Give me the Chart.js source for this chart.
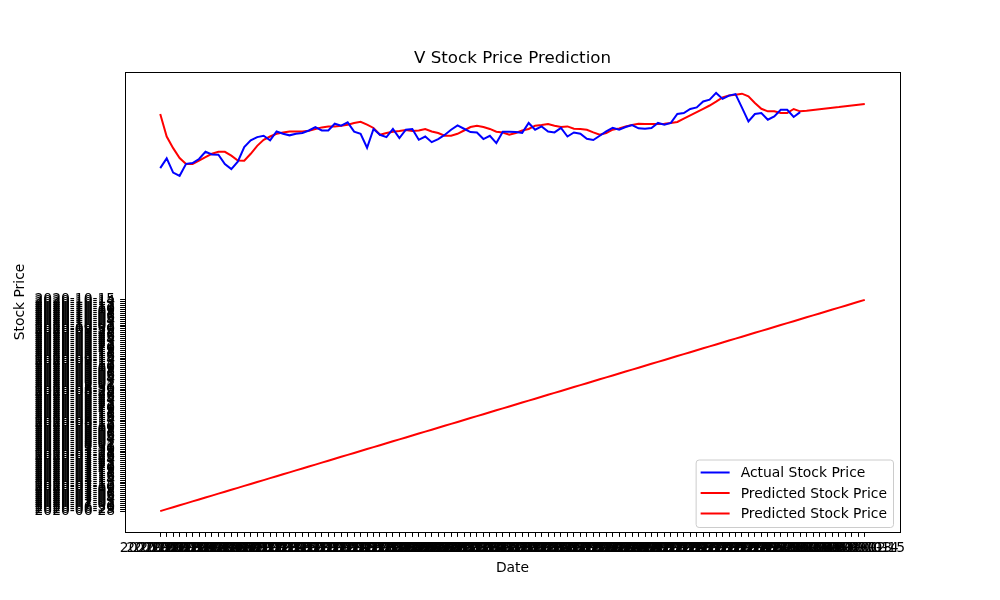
<!DOCTYPE html>
<html>
<head>
<meta charset="utf-8">
<script src="https://cdn.jsdelivr.net/npm/chart.js@4"></script>
<style>
  html, body { margin: 0; padding: 0; background: #fff; }
  #wrap { width: 1000px; height: 600px; }
</style>
</head>
<body>
<div id="wrap"><canvas id="mainChart" width="1000" height="600"></canvas></div>
<script>
const chartTitle = 'V Stock Price Prediction';
const xTitle = 'Date';
const yTitle = 'Stock Price';

// category labels (dates), used on both axes
const dates = [
  '2020-06-28', '2020-06-29', '2020-06-30',
  '2020-07-01', '2020-07-02', '2020-07-03', '2020-07-04', '2020-07-05', '2020-07-06', '2020-07-07', '2020-07-08',
  '2020-07-09', '2020-07-10', '2020-07-11', '2020-07-12', '2020-07-13', '2020-07-14', '2020-07-15', '2020-07-16',
  '2020-07-17', '2020-07-18', '2020-07-19', '2020-07-20', '2020-07-21', '2020-07-22', '2020-07-23', '2020-07-24',
  '2020-07-25', '2020-07-26', '2020-07-27', '2020-07-28', '2020-07-29', '2020-07-30', '2020-07-31',
  '2020-08-01', '2020-08-02', '2020-08-03', '2020-08-04', '2020-08-05', '2020-08-06', '2020-08-07', '2020-08-08',
  '2020-08-09', '2020-08-10', '2020-08-11', '2020-08-12', '2020-08-13', '2020-08-14', '2020-08-15', '2020-08-16',
  '2020-08-17', '2020-08-18', '2020-08-19', '2020-08-20', '2020-08-21', '2020-08-22', '2020-08-23', '2020-08-24',
  '2020-08-25', '2020-08-26', '2020-08-27', '2020-08-28', '2020-08-29', '2020-08-30', '2020-08-31',
  '2020-09-01', '2020-09-02', '2020-09-03', '2020-09-04', '2020-09-05', '2020-09-06', '2020-09-07', '2020-09-08',
  '2020-09-09', '2020-09-10', '2020-09-11', '2020-09-12', '2020-09-13', '2020-09-14', '2020-09-15', '2020-09-16',
  '2020-09-17', '2020-09-18', '2020-09-19', '2020-09-20', '2020-09-21', '2020-09-22', '2020-09-23', '2020-09-24',
  '2020-09-25', '2020-09-26', '2020-09-27', '2020-09-28', '2020-09-29', '2020-09-30',
  '2020-10-01', '2020-10-02', '2020-10-03', '2020-10-04', '2020-10-05', '2020-10-06', '2020-10-07', '2020-10-08',
  '2020-10-09', '2020-10-10', '2020-10-11', '2020-10-12', '2020-10-13', '2020-10-14', '2020-10-15'
];

const actualPrice = [
  177.0, 182.0, 174.7, 173.0, 179.2, 179.6, 181.7, 185.4, 184.0, 183.9,
  179.1, 176.5, 180.3, 187.9, 191.3, 193.0, 193.7, 191.3, 195.9, 194.7,
  193.9, 194.7, 195.1, 196.4, 198.2, 196.4, 196.4, 199.9, 198.9, 200.6,
  195.8, 194.7, 187.5, 197.2, 194.2, 193.0, 197.2, 192.5, 196.8, 197.2,
  191.6, 193.3, 190.4, 192.0, 194.1, 196.8, 199.0, 197.3, 195.6, 195.4,
  192.0, 193.7, 189.9, 195.8, 195.8, 195.6, 195.2, 200.3, 196.8, 198.5,
  195.9, 195.4, 197.7, 193.3, 195.4, 194.7, 192.1, 191.5, 193.7, 195.9,
  197.8, 196.8, 198.2, 199.2, 197.5, 197.3, 197.7, 200.3, 199.4, 200.3,
  204.9, 205.4, 207.5, 208.3, 211.4, 212.3, 215.8, 212.7, 214.4, 215.2,
  208.2, 201.1, 204.9, 205.4, 202.0, 203.7, 207.1, 207.1, 203.4, 205.9
];

const predictedPrice = [
  204.9, 193.3, 187.3, 182.2, 179.1, 179.1, 180.9, 182.7, 184.4, 185.4,
  185.4, 183.4, 180.9, 180.8, 184.4, 188.5, 191.6, 193.3, 194.7, 195.4,
  195.9, 195.9, 195.9, 196.3, 197.2, 198.0, 198.5, 198.5, 198.9, 199.4,
  200.3, 200.9, 199.4, 197.7, 194.2, 195.1, 195.8, 196.1, 196.6, 196.1,
  196.4, 197.2, 195.9, 195.1, 193.7, 193.7, 194.7, 196.4, 198.2, 198.9,
  198.2, 197.2, 195.8, 195.4, 194.2, 195.1, 196.4, 197.2, 198.9, 199.2,
  199.7, 198.9, 198.2, 198.5, 197.3, 197.2, 196.8, 195.4, 194.2, 195.1,
  196.8, 197.5, 198.5, 199.2, 199.9, 199.8, 199.7, 199.7, 199.9, 200.3,
  200.8, 202.5, 204.2, 205.9, 207.6, 209.3, 211.3, 213.5, 214.5, 214.9,
  215.4, 214.0, 210.6, 207.6, 206.3, 206.3, 205.4, 205.4, 207.5, 206.3,
  206.6, 207.0, 207.4, 207.8, 208.2, 208.5, 208.9, 209.3, 209.7, 210.1
];

// the date series is plotted against itself (category position on both axes)
const predictedDates = dates.slice();

const n = dates.length;
const yTop = Math.max(...actualPrice, ...predictedPrice, n - 1);
const FONT = 'DejaVu Sans';

const actualPoints = actualPrice.map((v, i) => ({ x: i, y: v }));
const predictedPoints = predictedPrice.map((v, i) => ({ x: i, y: v }));
const datePoints = predictedDates.map(d => ({ x: dates.indexOf(d), y: dates.indexOf(d) }));

const framePlugin = {
    id: 'frame',
    afterDraw(chart) {
        const { ctx, chartArea: a } = chart;
        ctx.save();
        // top and right spines
        ctx.strokeStyle = '#000';
        ctx.lineWidth = 1;
        ctx.strokeRect(Math.round(a.left) + 0.5, Math.round(a.top) + 0.5, a.right - a.left, a.bottom - a.top);

        // title centred over the axes
        ctx.fillStyle = '#000';
        ctx.font = `16.7px "${FONT}"`;
        ctx.textAlign = 'center';
        ctx.textBaseline = 'bottom';
        ctx.fillText(chartTitle, (a.left + a.right) / 2, a.top - 5);

        // legend, lower right inside the axes
        ctx.font = `13.9px "${FONT}"`;
        const items = chart.data.datasets;
        const textW = Math.max(...items.map(d => ctx.measureText(d.label).width));
        const rowH = 20.5;
        const boxW = 5 + 29 + 11 + textW + 6;
        const boxH = items.length * rowH + 6;
        const bx = a.right - 7 - boxW;
        const by = a.bottom - 5 - boxH;
        ctx.beginPath();
        ctx.roundRect(bx + 0.5, by + 0.5, boxW, boxH, 3);
        ctx.fillStyle = 'rgba(255,255,255,0.8)';
        ctx.fill();
        ctx.strokeStyle = '#cccccc';
        ctx.stroke();
        ctx.textAlign = 'left';
        ctx.textBaseline = 'middle';
        items.forEach((d, i) => {
            const cy = by + 13 + i * rowH;
            ctx.strokeStyle = d.borderColor;
            ctx.lineWidth = 2;
            ctx.beginPath();
            ctx.moveTo(bx + 5, cy);
            ctx.lineTo(bx + 34, cy);
            ctx.stroke();
            ctx.fillStyle = '#000';
            ctx.fillText(d.label, bx + 45, cy + 1);
        });
        ctx.restore();
    }
};

const tickGrid = { drawOnChartArea: false, drawTicks: true, tickLength: 4.9, color: '#000', lineWidth: 1 };

const ctx = document.getElementById('mainChart').getContext('2d');
new Chart(ctx, {
    type: 'line',
    data: {
        datasets: [
            { label: 'Actual Stock Price', data: actualPoints, borderColor: '#0000ff' },
            { label: 'Predicted Stock Price', data: predictedPoints, borderColor: '#ff0000' },
            { label: 'Predicted Stock Price', data: datePoints, borderColor: '#ff0000' }
        ]
    },
    options: {
        responsive: false,
        animation: false,
        devicePixelRatio: 1,
        layout: { padding: { top: 72, right: 100, bottom: 0, left: 0 } },
        elements: {
            line: { borderWidth: 2, tension: 0, fill: false },
            point: { radius: 0 }
        },
        plugins: {
            legend: { display: false },
            tooltip: { enabled: false },
            title: { display: false }
        },
        scales: {
            x: {
                type: 'linear',
                min: -0.05 * (n - 1),
                max: 1.05 * (n - 1),
                grid: tickGrid,
                border: { color: '#000', width: 1 },
                afterBuildTicks: scale => { scale.ticks = dates.map((d, i) => ({ value: i })); },
                afterFit: scale => { scale.height = 68; },
                ticks: {
                    autoSkip: false,
                    maxRotation: 0,
                    minRotation: 0,
                    padding: 3,
                    color: '#000',
                    font: { family: FONT, size: 13.9 },
                    callback: value => dates[value]
                },
                title: {
                    display: true,
                    text: xTitle,
                    color: '#000',
                    font: { family: FONT, size: 13.9 },
                    padding: { top: 0, bottom: 23 }
                }
            },
            y: {
                type: 'linear',
                min: -0.05 * yTop,
                max: 1.05 * yTop,
                grid: tickGrid,
                border: { color: '#000', width: 1 },
                afterBuildTicks: scale => { scale.ticks = dates.map((d, i) => ({ value: i })); },
                afterFit: scale => { scale.width = 125; },
                ticks: {
                    autoSkip: false,
                    padding: 4.9,
                    color: '#000',
                    font: { family: FONT, size: 13.9 },
                    callback: value => dates[value]
                },
                title: {
                    display: true,
                    text: yTitle,
                    color: '#000',
                    font: { family: FONT, size: 13.9 },
                    padding: { top: 12, bottom: 0 }
                }
            }
        }
    },
    plugins: [framePlugin]
});
</script>
</body>
</html>
